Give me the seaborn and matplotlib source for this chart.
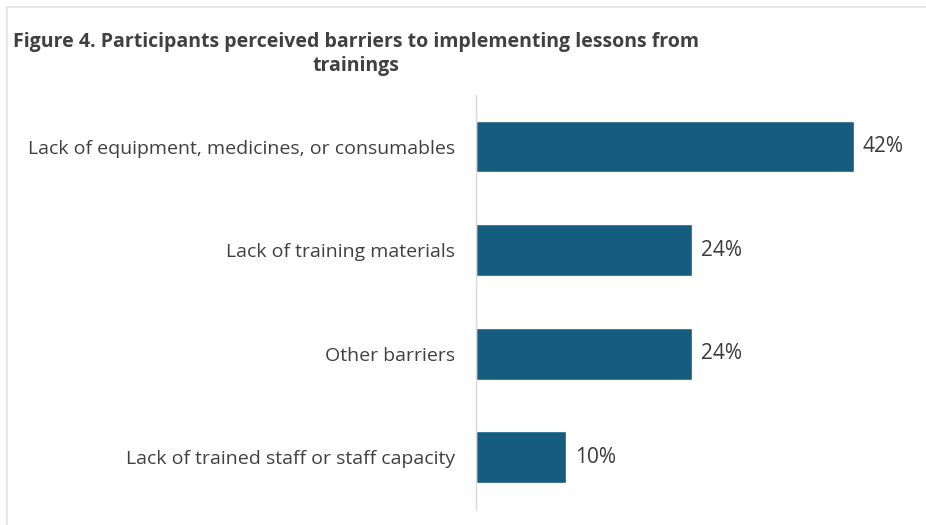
import matplotlib
matplotlib.use("Agg")
import matplotlib.pyplot as plt
import seaborn as sns
import pandas as pd
from matplotlib.lines import Line2D

categories = [
    "Lack of equipment, medicines, or consumables",
    "Lack of training materials",
    "Other barriers",
    "Lack of trained staff or staff capacity",
]
values = [42, 24, 24, 10]
value_labels = ["42%", "24%", "24%", "10%"]

sns.set_theme(style="white")
plt.rcParams["font.family"] = ["Open Sans", "DejaVu Sans"]

df = pd.DataFrame({"category": categories, "value": values})

fig = plt.figure(figsize=(9.26, 5.25), dpi=100)
ax = fig.add_axes([0.514, 0.0305, 0.466, 0.789])

sns.barplot(data=df, y="category", x="value", color="#155c7e", saturation=1,
            width=0.5, ax=ax, orient="h")

ax.set_xlim(0, 48.0)
ax.set_ylim(3.5, -0.5)
ax.set_xlabel("")
ax.set_ylabel("")
ax.set_xticks([])
for s in ["top", "right", "bottom"]:
    ax.spines[s].set_visible(False)
ax.spines["left"].set_color("#d9d9d9")
ax.spines["left"].set_linewidth(1)
ax.tick_params(axis="y", length=0, pad=15, labelsize=14, labelcolor="#404040")

for container in ax.containers:
    ax.bar_label(container, labels=value_labels, padding=6.5, fontsize=15,
                 color="#3a3a3a")

fig.text(0.384, 0.897, "Figure 4. Participants perceived barriers to implementing lessons from\ntrainings",
         ha="center", va="center", fontsize=14, fontweight="bold",
         color="#404040", linespacing=1.3)

# faint frame lines of the original screenshot
fig.add_artist(Line2D([0.008, 1.0], [0.987, 0.987], transform=fig.transFigure,
                      color="#e6e6e6", lw=1.5))
fig.add_artist(Line2D([0.008, 0.008], [0.0, 0.987], transform=fig.transFigure,
                      color="#e6e6e6", lw=1.5))

fig.savefig("out.png", dpi=100)
